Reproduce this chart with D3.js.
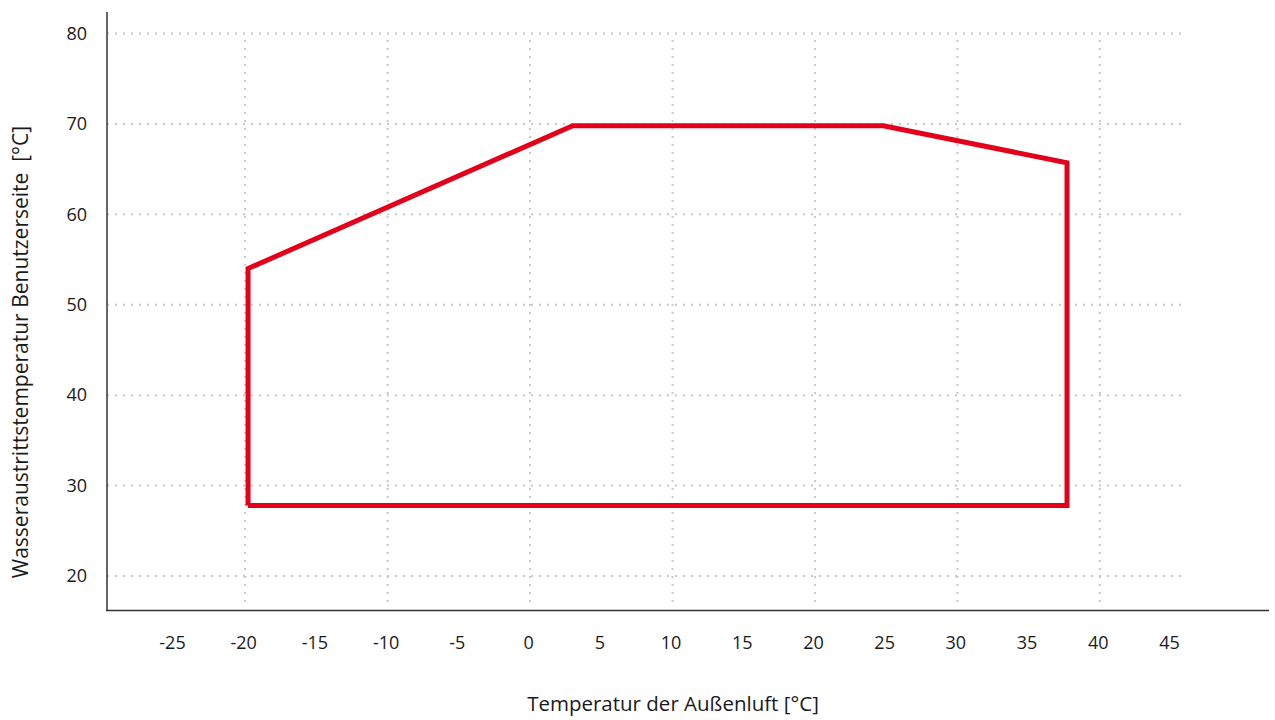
<!DOCTYPE html>
<html>
<head>
<meta charset="utf-8">
<script src="https://cdn.jsdelivr.net/npm/d3@7"></script>
<style>
	body { margin: 0; background: #fff; }
	text { font-family: "Open Sans", "Noto Sans", sans-serif; fill: #1a1a1a; }
</style>
</head>
<body>
<svg id="chart" width="1275" height="720"></svg>
<script>
// operating envelope (outdoor air temp, leaving water temp)
var envX = [-19.8, -19.8, 3, 24.8, 37.7, 37.7, -19.8];
var envY = [27.8, 54, 69.8, 69.8, 65.7, 27.8, 27.8];

var xTicks = [-25, -20, -15, -10, -5, 0, 5, 10, 15, 20, 25, 30, 35, 40, 45];
var xGrid = [-20, -10, 0, 10, 20, 30, 40];
var yTicks = [20, 30, 40, 50, 60, 70, 80];

var xTitle = "Temperatur der Außenluft [°C]";
var yTitle = "Wasseraustrittstemperatur Benutzerseite  [°C]";

var svg = d3.select("#chart");

var xScale = d3.scaleLinear()
	.domain([-25, 45])
	.range([174, 1171]);

var yScale = d3.scaleLinear()
	.domain([20, 80])
	.range([576, 33.5]);

// grid
svg.append("g")
	.selectAll("line")
	.data(yTicks)
	.join("line")
	.attr("x1", 107)
	.attr("x2", 1183)
	.attr("y1", d => yScale(d))
	.attr("y2", d => yScale(d))
	.attr("stroke", "#c8c8c8")
	.attr("stroke-width", 2)
	.attr("stroke-dasharray", "2,6");

svg.append("g")
	.selectAll("line")
	.data(xGrid)
	.join("line")
	.attr("x1", d => xScale(d))
	.attr("x2", d => xScale(d))
	.attr("y1", 40)
	.attr("y2", 605)
	.attr("stroke", "#c8c8c8")
	.attr("stroke-width", 2)
	.attr("stroke-dasharray", "2,6");

// axes
var xAxis = d3.axisBottom(xScale)
	.tickValues(xTicks)
	.tickFormat(d => String(d))
	.tickSize(0)
	.tickPadding(0);

svg.append("g")
	.attr("transform", "translate(-2,649)")
	.call(xAxis)
	.call(g => g.select(".domain").remove())
	.selectAll("text")
	.style("font-size", "18px")
	.attr("dy", 0);

var yAxis = d3.axisLeft(yScale)
	.tickValues(yTicks)
	.tickFormat(d => String(d))
	.tickSize(0)
	.tickPadding(0);

svg.append("g")
	.attr("transform", "translate(87,0)")
	.call(yAxis)
	.call(g => g.select(".domain").remove())
	.selectAll("text")
	.style("font-size", "18px");

svg.selectAll(".tick text").style("fill", "#1a1a1a").style("font-family", "'Open Sans', sans-serif");

svg.append("line")
	.attr("x1", 107).attr("x2", 107)
	.attr("y1", 12).attr("y2", 611)
	.attr("stroke", "#333").attr("stroke-width", 1.5);

svg.append("line")
	.attr("x1", 106).attr("x2", 1269)
	.attr("y1", 610.5).attr("y2", 610.5)
	.attr("stroke", "#333").attr("stroke-width", 1.5);

// envelope
var pts = envX.map((x, i) => [x, envY[i]]);
var line = d3.line()
	.x(d => xScale(d[0]))
	.y(d => yScale(d[1]));

svg.append("path")
	.attr("d", line(pts))
	.attr("fill", "none")
	.attr("stroke", "#e2001a")
	.attr("stroke-width", 5)
	.attr("stroke-linejoin", "miter");

// titles
svg.append("text")
	.attr("x", 673)
	.attr("y", 711)
	.attr("text-anchor", "middle")
	.style("font-size", "20.5px")
	.text(xTitle);

svg.append("text")
	.attr("transform", "translate(28,352) rotate(-90)")
	.attr("text-anchor", "middle")
	.style("font-size", "21px")
	.style("white-space", "pre")
	.text(yTitle);
</script>
</body>
</html>
